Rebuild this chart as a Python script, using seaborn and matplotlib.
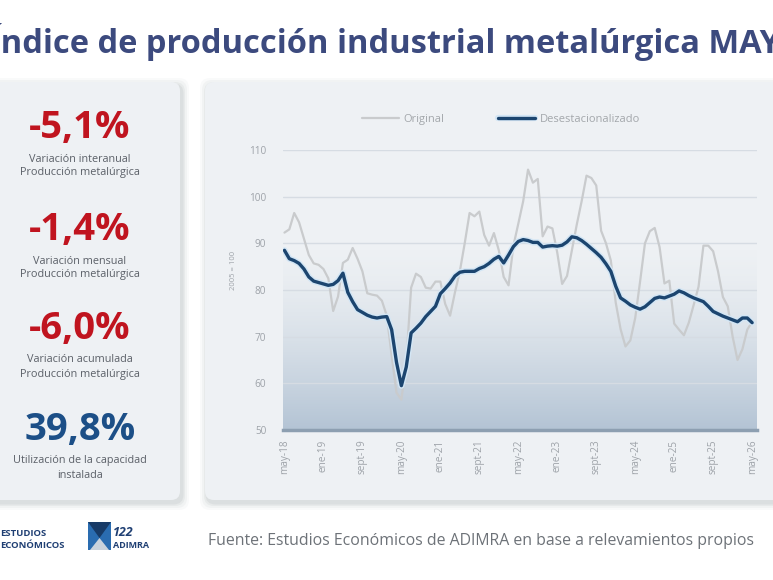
import numpy as np
import pandas as pd
import matplotlib
matplotlib.use("Agg")
import matplotlib.pyplot as plt
import seaborn as sns
from matplotlib.patches import FancyBboxPatch, Rectangle, Polygon
import matplotlib.patheffects as pe

# ---------------- data ----------------
original = [92.3, 93.0, 96.5, 94.5, 91.0, 87.5, 85.7, 85.4, 84.5, 82.5,
            75.5, 78.6, 85.8, 86.5, 89.0, 86.7, 84.0, 79.3, 79.0, 78.8,
            77.7, 74.5, 66.0, 58.0, 56.5, 64.5, 80.5, 83.5, 82.8, 80.5,
            80.3, 81.8, 81.8, 77.0, 74.5, 79.5, 84.0, 90.0, 96.5, 95.8,
            96.8, 91.8, 89.5, 92.2, 88.5, 82.8, 81.0, 89.5, 94.2, 99.0,
            105.8, 103.0, 103.8, 91.5, 93.6, 93.2, 88.0, 81.3, 83.0, 88.5,
            94.0, 99.0, 104.5, 104.0, 102.4, 92.7, 90.0, 86.3, 77.3, 71.6,
            67.9, 69.2, 74.0, 81.8, 90.0, 92.6, 93.3, 89.2, 81.4, 82.0,
            72.8, 71.5, 70.3, 73.0, 76.8, 80.7, 89.5, 89.5, 88.3, 84.0,
            78.5, 76.5, 70.0, 65.0, 67.3, 71.5, 73.2]
desestacionalizado = [88.5, 86.7, 86.3, 85.7, 84.5, 82.8, 81.9, 81.6, 81.3, 81.0,
                      81.2, 82.0, 83.6, 79.5, 77.5, 75.8, 75.2, 74.6, 74.2, 74.0,
                      74.2, 74.3, 71.5, 64.5, 59.5, 63.5, 70.8, 71.8, 72.9, 74.3,
                      75.4, 76.5, 79.2, 80.3, 81.5, 83.0, 83.8, 84.0, 84.0, 84.0,
                      84.6, 85.0, 85.7, 86.6, 87.2, 85.8, 87.5, 89.3, 90.4, 90.8,
                      90.6, 90.2, 90.2, 89.2, 89.4, 89.5, 89.4, 89.6, 90.3, 91.4,
                      91.2, 90.6, 89.8, 88.9, 88.0, 87.0, 85.6, 84.0, 80.8, 78.3,
                      77.6, 76.8, 76.3, 75.9, 76.4, 77.3, 78.2, 78.5, 78.3, 78.7,
                      79.1, 79.8, 79.4, 78.8, 78.3, 77.9, 77.5, 76.5, 75.4, 74.9,
                      74.4, 74.0, 73.6, 73.2, 74.0, 74.0, 73.0]
month_index = list(range(len(original)))
tick_positions = list(range(0, len(original), 8))
tick_labels = ["may-18", "ene-19", "sept-19", "may-20", "ene-21", "sept-21", "may-22",
               "ene-23", "sept-23", "may-24", "ene-25", "sept-25", "may-26"]
y_ticks = [50, 60, 70, 80, 90, 100, 110]

kpi_values = ["-5,1%", "-1,4%", "-6,0%", "39,8%"]
kpi_captions = [("Variación interanual", "Producción metalúrgica"),
                ("Variación mensual", "Producción metalúrgica"),
                ("Variación acumulada", "Producción metalúrgica"),
                ("Utilización de la capacidad", "instalada")]

title = "Índice de producción industrial metalúrgica MAYO"
source = "Fuente: Estudios Económicos de ADIMRA en base a relevamientos propios"

df = pd.DataFrame({"mes": month_index * 2,
                   "valor": original + desestacionalizado,
                   "serie": ["Original"] * len(original) + ["Desestacionalizado"] * len(desestacionalizado)})

# ---------------- style ----------------
sns.set_theme(style="white")
plt.rcParams["font.family"] = ["Open Sans", "DejaVu Sans"]

W, H = 773, 580
fig = plt.figure(figsize=(W / 100, H / 100), dpi=100)
fig.patch.set_facecolor("white")

bg = fig.add_axes([0, 0, 1, 1], zorder=0)
bg.set_xlim(0, W)
bg.set_ylim(H, 0)
bg.axis("off")

CARD = "#eef1f4"

def card(x0, y0, x1, y1):
    for k, a in [(7, 0.035), (5, 0.05), (3, 0.07), (1.5, 0.09)]:
        bg.add_patch(FancyBboxPatch((x0 - k + 2, y0 - k + 3), x1 - x0 + 2 * k, y1 - y0 + 2 * k,
                                    boxstyle="round,pad=0,rounding_size=10",
                                    fc="#6b7480", ec="none", alpha=a))
    bg.add_patch(FancyBboxPatch((x0, y0), x1 - x0, y1 - y0,
                                boxstyle="round,pad=0,rounding_size=9",
                                fc=CARD, ec="none"))

card(-20, 82, 180, 500)
card(205, 82, 800, 500)

# title
bg.text(-10, 42, title, fontsize=23.5, fontweight="bold", color="#3c4a7e",
        ha="left", va="center")

# KPIs
kpi_y = [128, 230, 329, 430]
kpi_colors = ["#c0141f", "#c0141f", "#c0141f", "#1c4f87"]
for v, (c1, c2), y, col in zip(kpi_values, kpi_captions, kpi_y, kpi_colors):
    bg.text(80, y, v, fontsize=27.5, fontweight="bold", color=col, ha="center", va="center")
    bg.text(80, y + 31, c1, fontsize=7.8, color="#5b6068", ha="center", va="center")
    bg.text(80, y + 45, c2, fontsize=7.8, color="#5b6068", ha="center", va="center")

# source + logos
bg.text(208, 541, source, fontsize=11.4, color="#6d7278", ha="left", va="center")
bg.text(0, 533, "ESTUDIOS", fontsize=6.8, fontweight="bold", color="#1f3f73", ha="left", va="center")
bg.text(0, 546, "ECONÓMICOS", fontsize=6.8, fontweight="bold", color="#1f3f73", ha="left", va="center")
bg.add_patch(Rectangle((88, 522), 23, 28, fc="#2a6cb0", ec="none"))
bg.add_patch(Polygon([(88, 522), (111, 522), (99.5, 538)], closed=True, fc="#173a66", ec="none"))
bg.add_patch(Polygon([(90, 550), (109, 550), (99.5, 538)], closed=True, fc="#c9d2dc", ec="none"))
bg.text(113, 532, "122", fontsize=9, fontweight="bold", fontstyle="italic", color="#1f3f73",
        ha="left", va="center")
bg.text(113, 546, "ADIMRA", fontsize=6.5, fontweight="bold", color="#1f3f73", ha="left", va="center")

# ---------------- chart ----------------
ax = fig.add_axes([283 / W, 1 - 430 / H, 474 / W, 280 / H], zorder=2)
ax.set_facecolor("none")

x_lo, x_hi = -0.3, 97.0
grad_n = 256
t = np.linspace(0, 1, grad_n)[:, None]
rgba = np.zeros((grad_n, 2, 4))
rgba[..., 0] = 0.55
rgba[..., 1] = 0.65
rgba[..., 2] = 0.75
rgba[..., 3] = (0.6 * t ** 1.5)
ax.imshow(rgba, extent=[x_lo, x_hi, 50, 90], aspect="auto", zorder=0, origin="upper",
          interpolation="bilinear")

palette = {"Original": "#c9cbcd", "Desestacionalizado": "#1c456f"}
sns.lineplot(data=df[df.serie == "Original"], x="mes", y="valor", color=palette["Original"],
             lw=1.6, ax=ax, label="Original", zorder=3)
sns.lineplot(data=df[df.serie == "Desestacionalizado"], x="mes", y="valor",
             color=palette["Desestacionalizado"], lw=2.4, ax=ax, label="Desestacionalizado", zorder=4,
             path_effects=[pe.Stroke(linewidth=4.5, foreground="#d3e6f5"), pe.Normal()])

ax.set_xlim(x_lo, x_hi)
ax.set_ylim(50, 110)
ax.set_yticks(y_ticks)
ax.set_yticklabels([str(v) for v in y_ticks])
ax.set_xticks(tick_positions)
ax.set_xticklabels(tick_labels, rotation=90)
ax.yaxis.grid(True, color="#d6dce3", lw=1)
ax.set_axisbelow(True)
for s in ["top", "right", "left"]:
    ax.spines[s].set_visible(False)
ax.spines["bottom"].set_color("#8d9fb1")
ax.spines["bottom"].set_linewidth(2.5)
ax.tick_params(axis="both", length=0, labelsize=7.2, labelcolor="#9ea3a9")
ax.tick_params(axis="y", pad=12)
ax.tick_params(axis="x", pad=7)
ax.set_xlabel("")
ax.set_ylabel("2005 = 100", fontsize=5.5, color="#9ea3a9")
ax.yaxis.set_label_coords(-0.097, 0.57)

leg = ax.legend(loc="center", bbox_to_anchor=(0.46, 1.11), ncol=2, frameon=False,
                fontsize=8, handlelength=3.3, handletextpad=0.45, columnspacing=4.8)
for txt in leg.get_texts():
    txt.set_color("#a3a7ab")

fig.savefig("out.png", dpi=100, facecolor="white")
